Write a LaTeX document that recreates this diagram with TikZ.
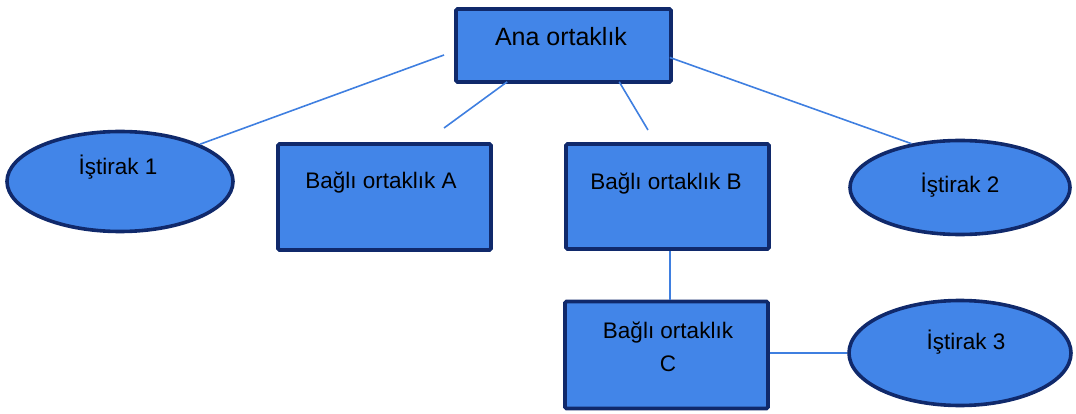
\documentclass[tikz,border=0pt]{standalone}
\usepackage{fontspec}
\setmainfont{Liberation Sans}
\usetikzlibrary{shapes.geometric,calc}
\definecolor{boxfill}{HTML}{4285E8}
\definecolor{boxedge}{HTML}{10296B}
\definecolor{linkcol}{HTML}{3F7FE0}
\tikzset{
  box/.style={draw=boxedge, fill=boxfill, line width=3.6pt, rounded corners=1.5pt, inner sep=0pt},
  oval/.style={ellipse, draw=boxedge, fill=boxfill, line width=3.6pt, inner sep=0pt},
  lbl/.style={font=\fontsize{22.5}{26}\selectfont, text=black, inner sep=0pt},
  link/.style={draw=linkcol, line width=1.6pt}
}
\begin{document}
\begin{tikzpicture}[x=1pt,y=-1pt]
\useasboundingbox (0,0) rectangle (1076,414);
% shapes
\node[box, minimum width=215pt, minimum height=73pt] (ana) at (563.5,45.5) {};
\node[oval, minimum width=226pt, minimum height=100pt] (i1) at (120,181.5) {};
\node[box, minimum width=213pt, minimum height=106pt] (ba) at (384.5,197) {};
\node[box, minimum width=203pt, minimum height=105pt] (bb) at (667.5,196.5) {};
\node[oval, minimum width=220pt, minimum height=94pt] (i2) at (960,187.5) {};
\node[box, minimum width=203pt, minimum height=107pt] (bc) at (666.5,355) {};
\node[oval, minimum width=222pt, minimum height=105pt] (i3) at (960,353) {};
% texts
\node[lbl, font=\fontsize{25}{30}\selectfont] (tana) at (561,37) {Ana ortaklık};
\node[lbl] (ti1) at (118,167) {İştirak 1};
\node[lbl] (tba) at (381,183) {Bağlı ortaklık A};
\node[lbl] (tbb) at (666,184) {Bağlı ortaklık B};
\node[lbl] (ti2) at (960,185) {İştirak 2};
\node[lbl, align=center, font=\fontsize{22.5}{33}\selectfont] (tbc) at (668,347) {Bağlı ortaklık\\C};
\node[lbl] (ti3) at (966,342) {İştirak 3};
% connector end points
\coordinate (p1) at (444,55);
\coordinate (p2) at (444,128);
\coordinate (p3) at (648,130);
\coordinate (a1) at ($(ana.south west)+(53,-2)$);
\coordinate (a2) at ($(ana.south west)+(165,-2)$);
\coordinate (a3) at ($(ana.east)+(-3,12)$);
\coordinate (b1) at ($(bb.south)+(2.5,0)$);
\coordinate (c1) at ($(bc.north)+(3.5,0)$);
% connectors
\draw[link] (p1) -- (i1.25);
\draw[link] (a1) -- (p2);
\draw[link] (a2) -- (p3);
\draw[link] (a3) -- (i2.138);
\draw[link] (b1) -- (c1);
\draw[link] (bc.east |- i3.west) -- (i3.west);
\end{tikzpicture}
\end{document}
